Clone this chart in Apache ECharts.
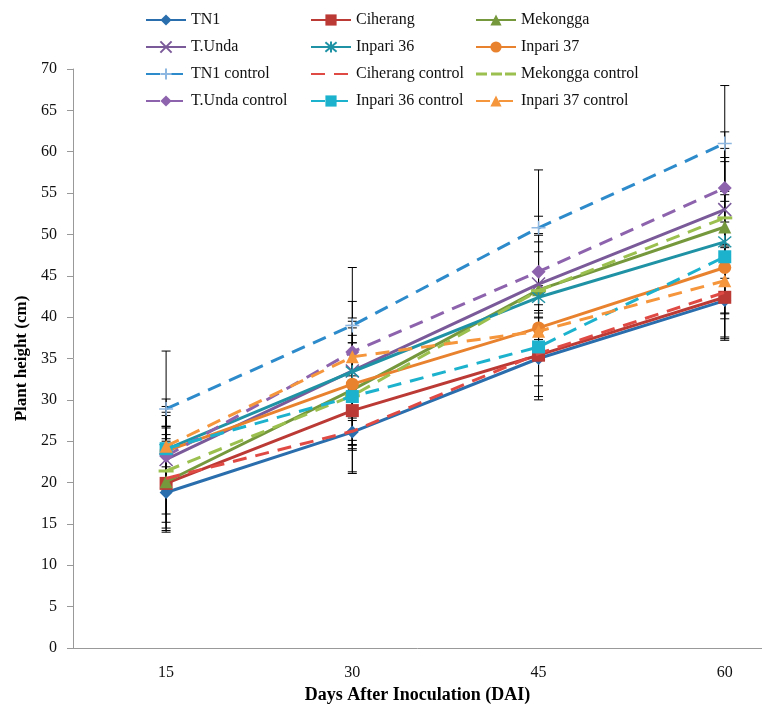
<!DOCTYPE html>
<html>
<head>
<meta charset="utf-8">
<script src="https://cdn.jsdelivr.net/npm/echarts@6/dist/echarts.min.js"></script>
<style>
	html, body { margin: 0; padding: 0; background: #fff; }
	#chart { width: 762px; height: 706px; }
</style>
</head>
<body>
<div id="chart"></div>
<script>
var days = [15, 30, 45, 60];

// means
var tn1 = [18.8, 26.1, 35.0, 42.0];
var ciherang = [19.9, 28.7, 35.4, 42.4];
var mekongga = [20.1, 31.2, 43.3, 50.9];
var tunda = [22.8, 33.5, 44.0, 53.0];
var inpari36 = [24.0, 33.4, 42.4, 49.1];
var inpari37 = [23.8, 31.9, 38.7, 46.0];
var tn1C = [28.9, 39.0, 50.8, 61.0];
var ciherangC = [20.5, 26.2, 35.6, 43.0];
var mekonggaC = [21.4, 30.5, 43.2, 52.0];
var tundaC = [23.2, 35.8, 45.5, 55.6];
var inpari36C = [24.1, 30.4, 36.4, 47.3];
var inpari37C = [24.4, 35.2, 38.3, 44.4];

// standard deviations (error bars)
var tn1Sd = [4.8, 4.8, 5.0, 4.4];
var ciherangSd = [5.4, 4.2, 3.7, 5.2];
var mekonggaSd = [4.9, 6.6, 6.6, 7.9];
var tundaSd = [3.0, 6.0, 6.1, 7.4];
var inpari36Sd = [4.1, 5.6, 5.5, 6.1];
var inpari37Sd = [4.7, 6.8, 2.8, 5.5];
var tn1CSd = [7.0, 7.0, 7.0, 7.0];
var ciherangCSd = [6.3, 5.1, 5.2, 5.6];
var mekonggaCSd = [5.2, 6.4, 5.9, 7.3];
var tundaCSd = [3.6, 6.1, 6.7, 6.8];
var inpari36CSd = [5.1, 6.5, 3.5, 7.5];
var inpari37CSd = [5.7, 4.7, 2.2, 4.0];

var X_PATH = 'path://M0,0L10,10M10,0L0,10';
var STAR_PATH = 'path://M0,0L10,10M10,0L0,10M5,-1L5,11';
var PLUS_PATH = 'path://M0,5L10,5M5,0L5,10';

var defs = [
	{ name: 'TN1', data: tn1, sd: tn1Sd, color: '#2A6EAD', symbol: 'diamond', size: 13 },
	{ name: 'Ciherang', data: ciherang, sd: ciherangSd, color: '#BC3A36', symbol: 'rect', size: 13 },
	{ name: 'Mekongga', data: mekongga, sd: mekonggaSd, color: '#76983D', symbol: 'triangle', size: 13 },
	{ name: 'T.Unda', data: tunda, sd: tundaSd, color: '#7B5A9A', symbol: X_PATH, size: 13, stroke: true },
	{ name: 'Inpari 36', data: inpari36, sd: inpari36Sd, color: '#1F93A5', symbol: STAR_PATH, size: 13, stroke: true },
	{ name: 'Inpari 37', data: inpari37, sd: inpari37Sd, color: '#E9822F', symbol: 'circle', size: 13 },
	{ name: 'TN1 control', data: tn1C, sd: tn1CSd, color: '#2E8BCB', symbol: PLUS_PATH, size: 14, stroke: true, dashed: true, mark: '#8DB6E0' },
	{ name: 'Ciherang control', data: ciherangC, sd: ciherangCSd, color: '#E04A45', symbol: 'circle', size: 1, dashed: true, hide: true },
	{ name: 'Mekongga control', data: mekonggaC, sd: mekonggaCSd, color: '#9CC04F', symbol: 'rect', size: [15, 3], dashed: true },
	{ name: 'T.Unda control', data: tundaC, sd: tundaCSd, color: '#8E63AD', symbol: 'diamond', size: 14, dashed: true },
	{ name: 'Inpari 36 control', data: inpari36C, sd: inpari36CSd, color: '#1CB2CD', symbol: 'rect', size: 13, dashed: true },
	{ name: 'Inpari 37 control', data: inpari37C, sd: inpari37CSd, color: '#F5953C', symbol: 'triangle', size: 13, dashed: true }
];

var errData = [];
defs.forEach(function (d) {
	d.data.forEach(function (v, i) {
		errData.push([days[i], v - d.sd[i], v + d.sd[i]]);
	});
});

var series = [{
	type: 'custom',
	name: 'err',
	z: 1,
	silent: true,
	data: errData,
	encode: { x: 0, y: [1, 2] },
	renderItem: function (params, api) {
		var lo = api.coord([api.value(0), api.value(1)]);
		var hi = api.coord([api.value(0), api.value(2)]);
		var w = 4.5;
		var st = { stroke: '#000', lineWidth: 1 };
		return {
			type: 'group',
			children: [
				{ type: 'line', shape: { x1: lo[0], y1: lo[1], x2: hi[0], y2: hi[1] }, style: st },
				{ type: 'line', shape: { x1: lo[0] - w, y1: lo[1], x2: lo[0] + w, y2: lo[1] }, style: st },
				{ type: 'line', shape: { x1: hi[0] - w, y1: hi[1], x2: hi[0] + w, y2: hi[1] }, style: st }
			]
		};
	}
}];

defs.forEach(function (d, k) {
	var mc = d.mark || d.color;
	var style;
	if (d.hide) {
		style = { color: 'rgba(0,0,0,0)', borderWidth: 0 };
	} else if (d.stroke) {
		style = { color: mc, borderColor: mc, borderWidth: 1.5 };
	} else {
		style = { color: mc, borderWidth: 0 };
	}
	series.push({
		type: 'line',
		name: d.name,
		data: d.data.map(function (v, i) { return [days[i], v]; }),
		z: 2 + k,
		symbol: d.symbol,
		symbolSize: d.size,
		showSymbol: !d.hide,
		lineStyle: { color: d.color, width: 3, type: d.dashed ? [14, 9] : 'solid' },
		itemStyle: style,
		emphasis: { disabled: true },
		animation: false
	});
});

var legendBase = {
	orient: 'vertical',
	top: 12,
	padding: 0,
	itemWidth: 40,
	itemHeight: 14,
	itemGap: 11,
	textStyle: { fontFamily: 'Liberation Serif', fontSize: 16, color: '#111' },
	selectedMode: false
};

function col(left, names) {
	return Object.assign({}, legendBase, { left: left, data: names });
}

var chart = echarts.init(document.getElementById('chart'));
chart.setOption({
	backgroundColor: '#fff',
	animation: false,
	legend: [
		col(145, ['TN1', 'T.Unda', 'TN1 control', 'T.Unda control']),
		col(310, ['Ciherang', 'Inpari 36', 'Ciherang control', 'Inpari 36 control']),
		col(475, ['Mekongga', 'Inpari 37', {
			name: 'Mekongga control',
			icon: 'path://M0,5.5L11,5.5L11,8.5L0,8.5Z M15,5.5L26,5.5L26,8.5L15,8.5Z M29,5.5L40,5.5L40,8.5L29,8.5Z M0,0L0.01,0 M40,14L40.01,14',
			itemStyle: { color: '#9CC04F' }
		}, 'Inpari 37 control'])
	],
	grid: { left: 73, top: 69, bottom: 58, right: 0, containLabel: false, outerBoundsMode: 'none' },
	xAxis: {
		type: 'value',
		min: 7.5,
		max: 63,
		splitLine: { show: false },
		axisLine: { lineStyle: { color: '#999', width: 1 } },
		axisTick: { show: false },
		axisLabel: { customValues: days, margin: 17, fontFamily: 'Liberation Serif', fontSize: 16, color: '#111' },
		name: 'Days After Inoculation (DAI)',
		nameLocation: 'middle',
		nameGap: 36,
		nameTextStyle: { fontFamily: 'Liberation Serif', fontSize: 18, fontWeight: 'bold', color: '#000' }
	},
	yAxis: {
		type: 'value',
		min: 0,
		max: 70,
		interval: 5,
		axisLine: { show: true, lineStyle: { color: '#999', width: 1 } },
		axisTick: { show: true, length: 6, lineStyle: { color: '#999' } },
		splitLine: { show: false },
		axisLabel: { margin: 16, fontFamily: 'Liberation Serif', fontSize: 16, color: '#111' },
		name: 'Plant height (cm)',
		nameLocation: 'middle',
		nameRotate: 90,
		nameGap: 38,
		nameTextStyle: { fontFamily: 'Liberation Serif', fontSize: 17, fontWeight: 'bold', color: '#000' }
	},
	series: series
});
</script>
</body>
</html>
